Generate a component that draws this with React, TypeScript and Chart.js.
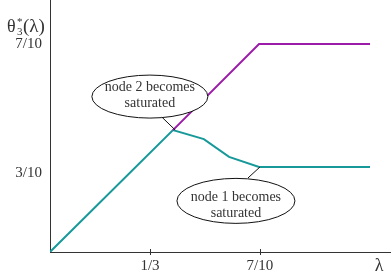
import React, { useEffect, useRef } from 'react';
import { Chart, registerables } from 'chart.js';

Chart.register(...registerables);

// Series (lambda on x, theta*_3 on y)
const tealX = [0, 0.41, 0.513, 0.597, 0.697, 1.067];
const tealY = [0, 0.41, 0.38, 0.32, 0.286, 0.286];
const purpleX = [0.41, 0.697, 1.067];
const purpleY = [0.41, 0.7, 0.7];

// Tick labels
const xTickValues = [1 / 3, 0.7];
const xTickLabels = ['1/3', '7/10'];
const yTickValues = [0.266, 0.7];
const yTickLabels = ['3/10', '7/10'];

// Callout texts
const callout1Lines = ['node 2 becomes', 'saturated'];
const callout2Lines = ['node 1 becomes', 'saturated'];

const FONT = '"Liberation Serif", "DejaVu Serif", serif';
const TEXT = '#333333';

const annotationPlugin = {
  id: 'annotations',
  afterDraw(chart: any) {
    const { ctx, scales, chartArea } = chart;
    const xs = scales.x;
    const ys = scales.y;
    const px = (v: number) => xs.getPixelForValue(v);
    const py = (v: number) => ys.getPixelForValue(v);

    ctx.save();
    // crossing tick marks on x axis
    ctx.strokeStyle = TEXT;
    ctx.lineWidth = 1;
    xTickValues.forEach((v) => {
      const x = Math.round(px(v)) + 0.5;
      ctx.beginPath();
      ctx.moveTo(x, chartArea.bottom - 3);
      ctx.lineTo(x, chartArea.bottom + 3);
      ctx.stroke();
    });

    const callouts = [
      { lines: callout1Lines, cx: 0.333, cy: 0.523, rx: 58, ry: 21.5, textDy: -1.5, from: [0.373, 0.454], to: [0.417, 0.411] },
      { lines: callout2Lines, cx: 0.62, cy: 0.172, rx: 59, ry: 22.5, textDy: 4, from: [0.66, 0.249], to: [0.7, 0.286] },
    ];
    callouts.forEach((c) => {
      const cx = px(c.cx);
      const cy = py(c.cy);
      ctx.beginPath();
      ctx.ellipse(cx, cy, c.rx, c.ry, 0, 0, Math.PI * 2);
      ctx.fillStyle = '#ffffff';
      ctx.fill();
      ctx.strokeStyle = '#111111';
      ctx.lineWidth = 1;
      ctx.stroke();
      ctx.beginPath();
      ctx.moveTo(px(c.from[0]), py(c.from[1]));
      ctx.lineTo(px(c.to[0]), py(c.to[1]));
      ctx.stroke();
      ctx.fillStyle = TEXT;
      ctx.font = `14px ${FONT}`;
      ctx.textAlign = 'center';
      ctx.textBaseline = 'middle';
      ctx.fillText(c.lines[0], cx, cy + c.textDy - 8);
      ctx.fillText(c.lines[1], cx, cy + c.textDy + 8);
    });

    // y axis title: theta*_3(lambda)
    ctx.fillStyle = TEXT;
    ctx.textAlign = 'left';
    ctx.textBaseline = 'alphabetic';
    ctx.font = `18px ${FONT}`;
    ctx.fillText('θ', 7, 32);
    ctx.font = `11px ${FONT}`;
    ctx.fillText('*', 17, 25);
    ctx.fillText('3', 17, 35);
    ctx.font = `19px ${FONT}`;
    ctx.fillText('(λ)', 23, 32);

    // x axis title: lambda
    ctx.font = `18px ${FONT}`;
    ctx.textAlign = 'center';
    ctx.fillText('λ', 379, 271);
    ctx.restore();
  },
};

export default function App() {
  const canvasRef = useRef<HTMLCanvasElement | null>(null);

  useEffect(() => {
    document.body.style.margin = '0';
    const canvas = canvasRef.current;
    if (!canvas) return;
    const chart = new Chart(canvas, {
      type: 'line',
      data: {
        datasets: [
          {
            data: purpleX.map((x, i) => ({ x, y: purpleY[i] })),
            borderColor: '#9b1ca8',
            borderWidth: 2,
            pointRadius: 0,
            fill: false,
          },
          {
            data: tealX.map((x, i) => ({ x, y: tealY[i] })),
            borderColor: '#17999a',
            borderWidth: 2,
            pointRadius: 0,
            fill: false,
          },
        ],
      },
      options: {
        responsive: false,
        animation: false,
        events: [],
        layout: { padding: 0 },
        plugins: { legend: { display: false }, tooltip: { enabled: false } },
        scales: {
          x: {
            type: 'linear',
            min: 0,
            max: 1.137,
            grid: { display: false, drawTicks: false },
            border: { display: true, color: TEXT, width: 1 },
            afterBuildTicks: (axis: any) => {
              axis.ticks = xTickValues.map((v) => ({ value: v }));
            },
            afterFit: (axis: any) => {
              axis.height = 20;
              axis.paddingLeft = 0;
              axis.paddingRight = 0;
              axis.paddingTop = 0;
              axis.paddingBottom = 0;
            },
            ticks: {
              autoSkip: false,
              maxRotation: 0,
              padding: 5,
              color: TEXT,
              font: { family: FONT, size: 15 },
              callback: (_v: any, i: number) => xTickLabels[i],
            },
          },
          y: {
            type: 'linear',
            min: 0,
            max: 0.848,
            grid: { display: false, drawTicks: false },
            border: { display: true, color: TEXT, width: 1 },
            afterBuildTicks: (axis: any) => {
              axis.ticks = yTickValues.map((v) => ({ value: v }));
            },
            afterFit: (axis: any) => {
              axis.width = 50;
              axis.paddingLeft = 0;
              axis.paddingRight = 0;
              axis.paddingTop = 0;
              axis.paddingBottom = 0;
            },
            ticks: {
              autoSkip: false,
              padding: 8,
              color: TEXT,
              font: { family: FONT, size: 15 },
              callback: (_v: any, i: number) => yTickLabels[i],
            },
          },
        },
      },
      plugins: [annotationPlugin],
    });
    return () => chart.destroy();
  }, []);

  return (
    <div style={{ position: 'fixed', left: 0, top: 0, width: 391, height: 272, background: '#fff' }}>
      <canvas ref={canvasRef} width={391} height={272} style={{ display: 'block' }} />
    </div>
  );
}
